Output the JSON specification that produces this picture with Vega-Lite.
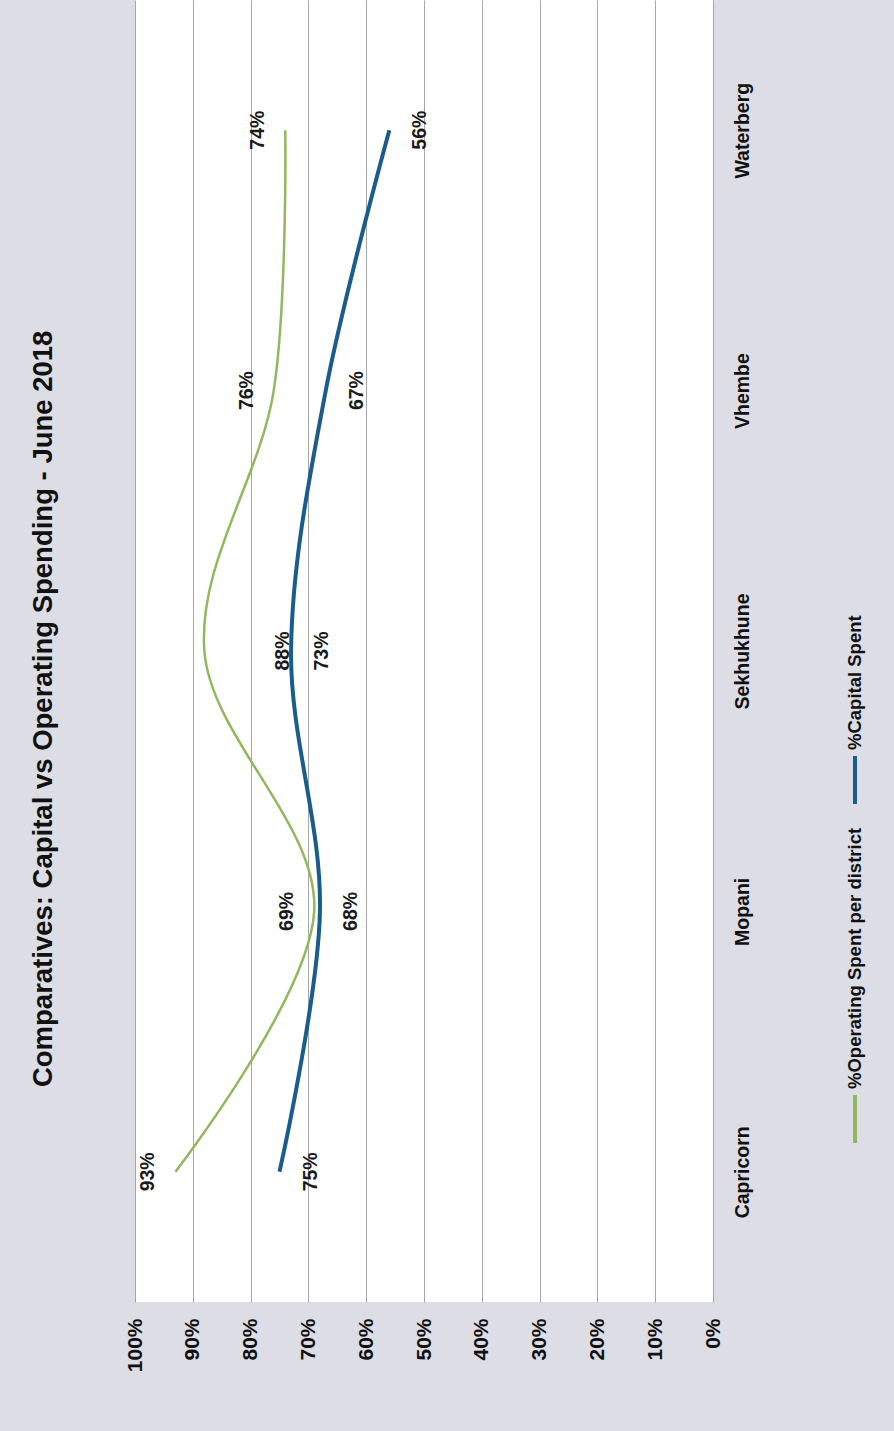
{
  "$schema": "https://vega.github.io/schema/vega-lite/v6.json",
  "autosize": {"type": "pad"},
  "padding": {"left": 29, "top": 0, "right": 24, "bottom": 60},
  "background": "#dcdde5",
  "title": {
    "text": "Comparatives: Capital vs Operating Spending - June 2018",
    "orient": "left",
    "anchor": "middle",
    "font": "Liberation Sans",
    "fontSize": 27.5,
    "fontWeight": "bold",
    "color": "#111111",
    "offset": 67,
    "dx": -23
  },
  "datasets": {
    "spend": [
      {"district": "Capricorn", "series": "%Operating Spent per district", "value": 0.93},
      {"district": "Mopani", "series": "%Operating Spent per district", "value": 0.69},
      {"district": "Sekhukhune", "series": "%Operating Spent per district", "value": 0.88},
      {"district": "Vhembe", "series": "%Operating Spent per district", "value": 0.76},
      {"district": "Waterberg", "series": "%Operating Spent per district", "value": 0.74},
      {"district": "Capricorn", "series": "%Capital Spent", "value": 0.75},
      {"district": "Mopani", "series": "%Capital Spent", "value": 0.68},
      {"district": "Sekhukhune", "series": "%Capital Spent", "value": 0.73},
      {"district": "Vhembe", "series": "%Capital Spent", "value": 0.67},
      {"district": "Waterberg", "series": "%Capital Spent", "value": 0.56}
    ],
    "legend": [
      {"series": "%Capital Spent"},
      {"series": "%Operating Spent per district"}
    ]
  },
  "spacing": 88,
  "hconcat": [
    {
      "width": 578,
      "height": 1302,
      "view": {"fill": "white", "stroke": null},
      "data": {"name": "spend"},
      "encoding": {
        "x": {
          "field": "value",
          "type": "quantitative",
          "scale": {"domain": [0, 1], "reverse": true, "nice": false, "zero": true},
          "axis": {
            "orient": "bottom",
            "values": [0, 0.1, 0.2, 0.3, 0.4, 0.5, 0.6, 0.7, 0.8, 0.9, 1],
            "format": ".0%",
            "labelAngle": 270,
            "labelAlign": "right",
            "labelBaseline": "middle",
            "labelPadding": 16,
            "labelFontSize": 21,
            "labelFont": "Liberation Sans",
            "labelFontWeight": "bold",
            "labelColor": "#111111",
            "labelFlush": false,
            "labelOverlap": false,
            "ticks": false,
            "domain": false,
            "grid": true,
            "gridColor": "#a6a6a6",
            "gridWidth": 1,
            "title": null
          }
        },
        "y": {
          "field": "district",
          "type": "nominal",
          "sort": ["Waterberg", "Vhembe", "Sekhukhune", "Mopani", "Capricorn"],
          "scale": {"type": "point", "padding": 0.5},
          "axis": {
            "orient": "right",
            "labelAngle": 270,
            "labelAlign": "center",
            "labelBaseline": "top",
            "labelPadding": 20,
            "labelFontSize": 19.5,
            "labelFont": "Liberation Sans",
            "labelFontWeight": "bold",
            "labelColor": "#111111",
            "ticks": false,
            "domain": false,
            "grid": false,
            "title": null
          }
        }
      },
      "layer": [
        {
          "mark": {"type": "line", "interpolate": "cardinal", "orient": "horizontal"},
          "encoding": {
            "color": {
              "field": "series",
              "type": "nominal",
              "scale": {"domain": ["%Operating Spent per district", "%Capital Spent"], "range": ["#93b75e", "#1a5c8c"]},
              "legend": null
            },
            "strokeWidth": {
              "field": "series",
              "type": "nominal",
              "scale": {"domain": ["%Operating Spent per district", "%Capital Spent"], "range": [2.5, 4]},
              "legend": null
            }
          }
        },
        {
          "transform": [{"filter": "datum.series === '%Operating Spent per district' && datum.district !== 'Sekhukhune'"}],
          "mark": {"type": "text", "angle": 270, "align": "center", "baseline": "middle", "dy": -27, "font": "Liberation Sans", "fontWeight": "bold", "fontSize": 19.5, "color": "#1a1a1a"},
          "encoding": {"text": {"field": "value", "type": "quantitative", "format": ".0%"}}
        },
        {
          "transform": [{"filter": "datum.series === '%Operating Spent per district' && datum.district === 'Sekhukhune'"}],
          "mark": {"type": "text", "angle": 270, "align": "center", "baseline": "middle", "dy": 79, "font": "Liberation Sans", "fontWeight": "bold", "fontSize": 19.5, "color": "#1a1a1a"},
          "encoding": {"text": {"field": "value", "type": "quantitative", "format": ".0%"}}
        },
        {
          "transform": [{"filter": "datum.series === '%Capital Spent'"}],
          "mark": {"type": "text", "angle": 270, "align": "center", "baseline": "middle", "dy": 31, "font": "Liberation Sans", "fontWeight": "bold", "fontSize": 19.5, "color": "#1a1a1a"},
          "encoding": {"text": {"field": "value", "type": "quantitative", "format": ".0%"}}
        }
      ]
    },
    {
      "width": 30,
      "height": 1302,
      "view": {"fill": null, "stroke": null},
      "data": {"name": "legend"},
      "encoding": {
        "y": {
          "field": "series",
          "type": "nominal",
          "sort": ["%Capital Spent", "%Operating Spent per district"],
          "scale": {"type": "point", "padding": 0, "range": [780, 1119]},
          "axis": null
        }
      },
      "layer": [
        {
          "mark": {"type": "point", "shape": "M0,-1L0,1", "filled": false, "size": 2304, "strokeWidth": 4, "opacity": 1},
          "encoding": {
            "color": {
              "field": "series",
              "type": "nominal",
              "scale": {"domain": ["%Operating Spent per district", "%Capital Spent"], "range": ["#93b75e", "#1a5c8c"]},
              "legend": null
            }
          }
        },
        {
          "mark": {"type": "text", "angle": 270, "align": "left", "baseline": "middle", "dx": 30, "font": "Liberation Sans", "fontWeight": "bold", "fontSize": 18.5, "color": "#111111"},
          "encoding": {"text": {"field": "series", "type": "nominal"}}
        }
      ]
    }
  ],
  "config": {"view": {"stroke": null}}
}
